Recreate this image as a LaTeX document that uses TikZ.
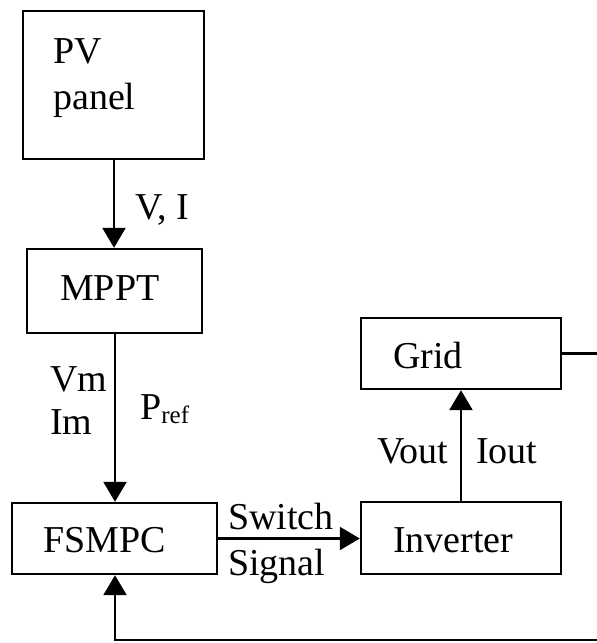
\documentclass[tikz,border=0pt]{standalone}
\usepackage{fontspec}
\setmainfont{Liberation Serif}
\usetikzlibrary{arrows.meta}
\tikzset{
  blk/.style={draw, line width=2.4pt, rectangle, inner sep=0pt},
  lbl/.style={anchor=base west, inner sep=0pt, font=\fontsize{38}{44}\selectfont},
  conn/.style={line width=2.4pt},
  arr/.style={conn, -{Triangle[width=23pt,length=20pt]}}
}
\begin{document}
\begin{tikzpicture}[x=1pt,y=-1pt]
\useasboundingbox (0,0) rectangle (597,643);
% boxes
\node[blk, minimum width=181pt, minimum height=148pt] (pv) at (113.5,85) {};
\node[blk, minimum width=175pt, minimum height=84pt] (mppt) at (114.5,291) {};
\node[blk, minimum width=205pt, minimum height=71pt] (fsmpc) at (114.5,538.5) {};
\node[blk, minimum width=200pt, minimum height=71pt] (grid) at (461,353.5) {};
\node[blk, minimum width=200pt, minimum height=72pt] (inv) at (461,538) {};
% texts
\node[lbl] (tpv) at (53,63) {PV};
\node[lbl] (tpanel) at (53,109) {panel};
\node[lbl] (tvi) at (135,219) {V, I};
\node[lbl] (tmppt) at (60,300) {MPPT};
\node[lbl] (tvm) at (50,391) {Vm};
\node[lbl] (tim) at (50,434) {Im};
\node[lbl] (tpref) at (140,419) {P\raisebox{-4pt}{\fontsize{25}{25}\selectfont ref}};
\node[lbl] (tfsmpc) at (43,552) {FSMPC};
\node[lbl] (tsw) at (228,529) {Switch};
\node[lbl] (tsig) at (228,575) {Signal};
\node[lbl] (tinv) at (393,552) {Inverter};
\node[lbl] (tgrid) at (393,368) {Grid};
\node[lbl] (tvout) at (377,463) {Vout};
\node[lbl] (tiout) at (476,463) {Iout};
% coordinates
\coordinate (gridend) at (597,352);
\coordinate (botright) at (597,640);
\coordinate (botleft) at (115,640);
% connectors
\draw[arr] (114,159) coordinate (pvs) -- (pvs |- mppt.north);
\draw[arr] (115,333) coordinate (mps) -- (mps |- fsmpc.north);
\draw[arr] (fsmpc.east) -- (fsmpc.east -| inv.west);
\draw[arr] (inv.north) -- (grid.south);
\draw[conn] (grid.east) -- (grid.east -| gridend);
\draw[arr] (botright) -- (botleft) -- (botleft |- fsmpc.south);
\end{tikzpicture}
\end{document}
